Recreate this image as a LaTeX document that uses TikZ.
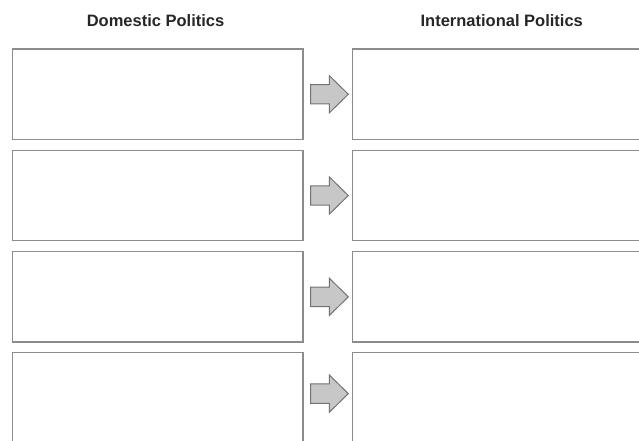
\documentclass[tikz,border=0pt]{standalone}
\usepackage{fontspec}
\setmainfont{Liberation Sans}
\usetikzlibrary{positioning,calc}

\begin{document}
\begin{tikzpicture}[x=1pt,y=1pt,
	box/.style={draw=black!45,line width=1.2pt,minimum width=290.5pt,minimum height=90.5pt,inner sep=0pt,outer sep=0pt,anchor=north west},
	head/.style={font=\bfseries\fontsize{16.5}{18}\selectfont,text=black!85,inner sep=0pt},
	blk/.style={draw=black!55,fill=black!22,line width=1pt,line join=miter}]
	\useasboundingbox (0,0) rectangle (639,441);
	% first row
	\node[box] (d1) at (12.5,392) {};
	\node[box,right=49.5pt of d1] (n1) {};
	% other rows
	\foreach \i [count=\j] in {2,3,4} {
		\node[box,below=10.8pt of d\j] (d\i) {};
		\node[box,right=49.5pt of d\i] (n\i) {};
	}
	% arrows between the columns
	\foreach \i/\dy in {1/0,2/0,3/0,4/4.5} {
		\coordinate (a\i) at ($(d\i.east)+(7.7,\dy)$);
		\draw[blk] ($(a\i)+(0,9.7)$) -- ++(18.6,0) -- ++(0,8.95) -- ($(a\i)+(37.6,0)$) -- ($(a\i)+(18.6,-18.65)$) -- ++(0,8.95) -- ($(a\i)+(0,-9.7)$) -- cycle;
	}
	% column titles
	\node[head] (hd) at ($(d1.north)+(-2.2,28.3)$) {Domestic Politics};
	\node[head] (hi) at ($(n1.north)+(4,28.3)$) {International Politics};
\end{tikzpicture}
\end{document}
